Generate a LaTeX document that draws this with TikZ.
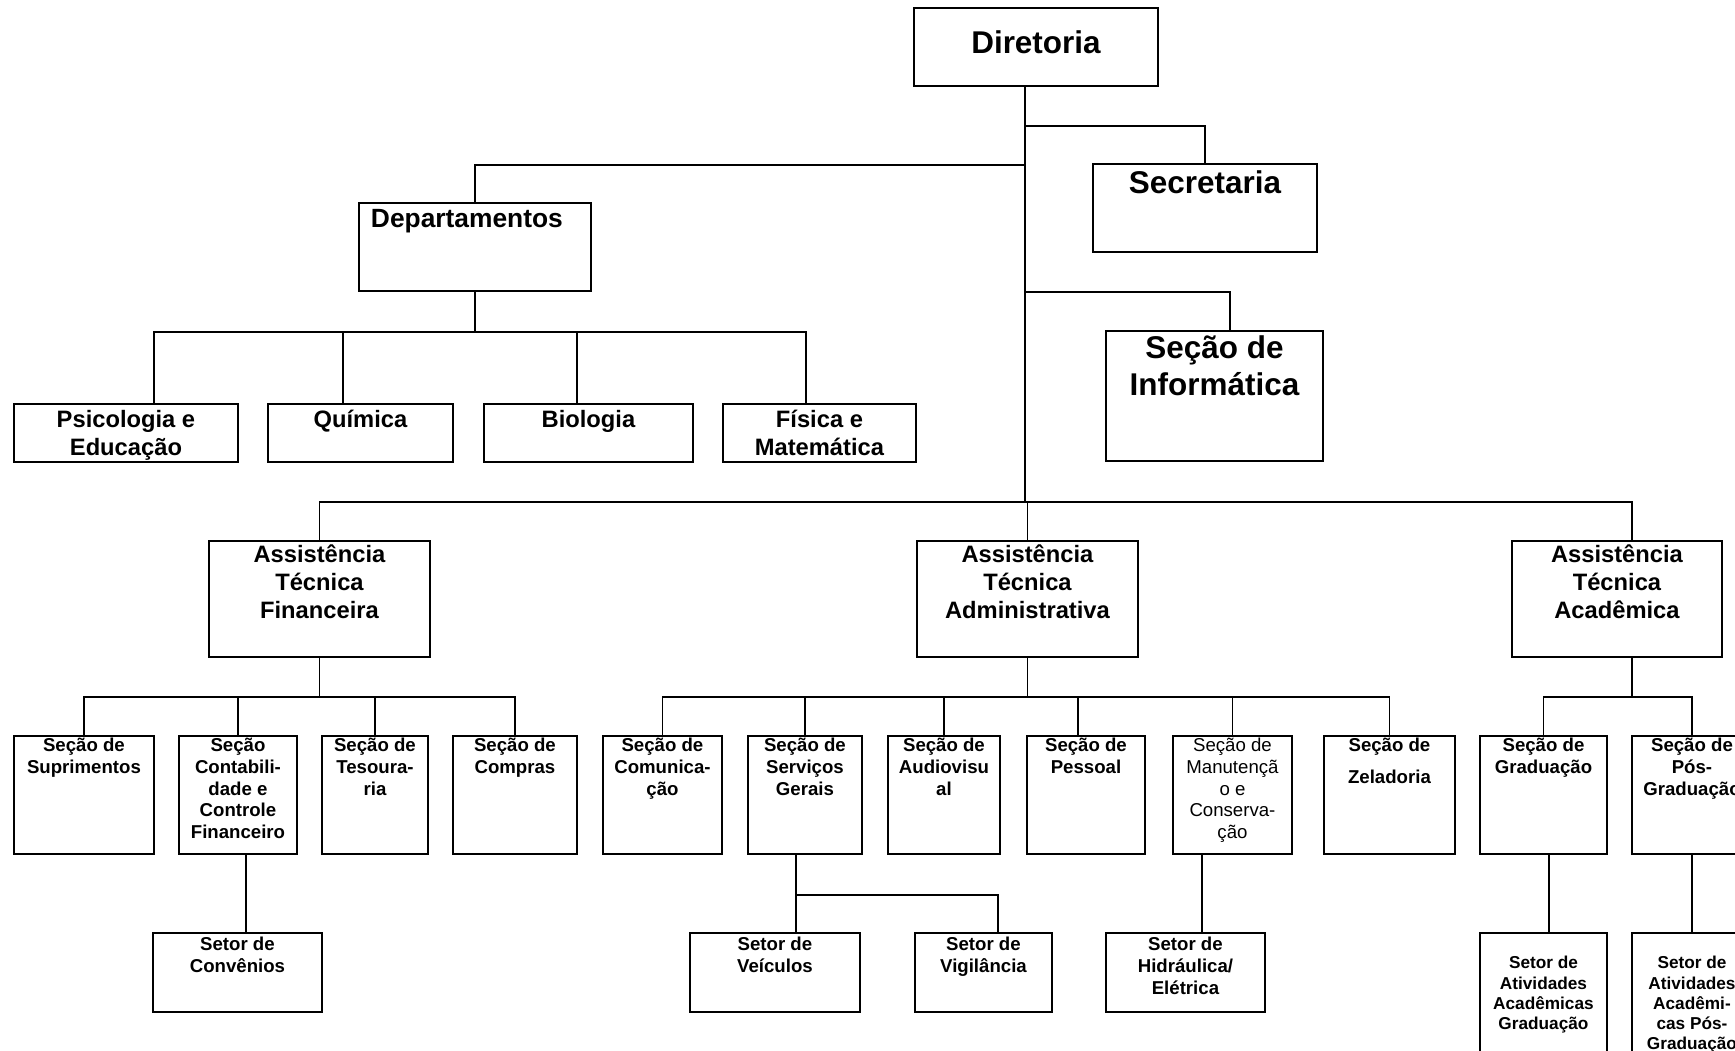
\documentclass[tikz,border=0pt]{standalone}
\usepackage{fontspec}
\setmainfont{Liberation Sans}
\newlength{\px}
\setlength{\px}{0.2mm}
% box text: first baseline, width, height, lines
\newcommand{\boxtxt}[4]{\parbox[t][#3\px][t]{#2\px}{\centering\rule{0pt}{#1\px}#4}}
\tikzset{
  orgbox/.style={draw, line width=1.1pt, inner sep=0pt, anchor=north west},
  boxbig/.style={orgbox, font=\fontsize{17.9}{21}\selectfont\bfseries},
  boxdep/.style={orgbox, font=\fontsize{15}{18}\selectfont\bfseries},
  boxmid/.style={orgbox, font=\fontsize{13.5}{15.7}\selectfont\bfseries},
  boxsml/.style={orgbox, font=\fontsize{10.6}{12.3}\selectfont\bfseries},
  boxreg/.style={orgbox, font=\fontsize{10.6}{12.3}\selectfont},
  boxtny/.style={orgbox, font=\fontsize{9.8}{11.4}\selectfont\bfseries},
}
\begin{document}
\begin{tikzpicture}[x=0.2mm, y=-0.2mm]
  \useasboundingbox (0,0) rectangle (1735,1051);
  \clip (0,0) rectangle (1735,1051);
  % top
  \node[boxbig] (dir) at (913,7) {\boxtxt{46}{244}{78}{Diretoria}};
  \node[boxbig] (sec) at (1092,163) {\boxtxt{30}{224}{88}{Secretaria}};
  \node[boxdep] (dep) at (358,202) {\boxtxt{25}{232}{88}{\raggedright\hspace*{12\px}Departamentos}};
  \node[boxbig] (inf) at (1105,330) {\boxtxt{28}{217}{130}{Seção de\\Informática}};
  % departamentos
  \node[boxmid] (psi) at (13,403) {\boxtxt{24}{224}{58}{Psicologia e\\Educação}};
  \node[boxmid] (qui) at (267,403) {\boxtxt{24}{185}{58}{Química}};
  \node[boxmid] (bio) at (483,403) {\boxtxt{24}{209}{58}{Biologia}};
  \node[boxmid] (fis) at (722,403) {\boxtxt{24}{193}{58}{Física e\\Matemática}};
  % assistencias
  \node[boxmid] (atf) at (208,540) {\boxtxt{22}{221}{116}{Assistência\\Técnica\\Financeira}};
  \node[boxmid] (ata) at (916,540) {\boxtxt{22}{221}{116}{Assistência\\Técnica\\Administrativa}};
  \node[boxmid] (atc) at (1511,540) {\boxtxt{22}{210}{116}{Assistência\\Técnica\\Acadêmica}};
  % secoes
  \node[boxsml] (sup) at (13,735) {\boxtxt{16}{140}{118}{Seção de\\Suprimentos}};
  \node[boxsml] (ctb) at (178,735) {\boxtxt{16}{118}{118}{Seção\\Contabili-\\dade e\\Controle\\Financeiro}};
  \node[boxsml] (tes) at (321,735) {\boxtxt{16}{106}{118}{Seção de\\Tesoura-\\ria}};
  \node[boxsml] (com) at (452,735) {\boxtxt{16}{124}{118}{Seção de\\Compras}};
  \node[boxsml] (cmn) at (602,735) {\boxtxt{16}{119}{118}{Seção de\\Comunica-\\ção}};
  \node[boxsml] (svg) at (747,735) {\boxtxt{16}{114}{118}{Seção de\\Serviços\\Gerais}};
  \node[boxsml] (aud) at (887,735) {\boxtxt{16}{112}{118}{Seção de\\Audiovisu\\al}};
  \node[boxsml] (pes) at (1026,735) {\boxtxt{16}{118}{118}{Seção de\\Pessoal}};
  \node[boxreg] (man) at (1172,735) {\boxtxt{16}{119}{118}{Seção de\\Manutençã\\o e\\Conserva-\\ção}};
  \node[boxsml] (zel) at (1323,735) {\boxtxt{16}{131}{118}{Seção de\\[10\px]Zeladoria}};
  \node[boxsml] (gra) at (1479,735) {\boxtxt{16}{127}{118}{Seção de\\Graduação}};
  \node[boxsml] (pos) at (1631,735) {\boxtxt{16}{120}{118}{Seção de\\Pós-\\Graduação}};
  % setores
  \node[boxsml] (cnv) at (152,932) {\boxtxt{18}{169}{79}{Setor de\\Convênios}};
  \node[boxsml] (vei) at (689,932) {\boxtxt{18}{170}{79}{Setor de\\Veículos}};
  \node[boxsml] (vig) at (914,932) {\boxtxt{18}{137}{79}{Setor de\\Vigilância}};
  \node[boxsml] (hid) at (1105,932) {\boxtxt{18}{159}{79}{Setor de\\Hidráulica/\\Elétrica}};
  \node[boxtny] (sag) at (1479,932) {\boxtxt{36}{127}{140}{Setor de\\Atividades\\Acadêmicas\\Graduação}};
  \node[boxtny] (sap) at (1631,932) {\boxtxt{36}{120}{140}{Setor de\\Atividades\\Acadêmi-\\cas Pós-\\Graduação}};
  \begin{scope}[line width=1.1pt]
    \draw ([xshift=-2.2mm]dir.south) -- ++(0,39) -| (sec.north);
    \draw ([xshift=-2.2mm]dir.south) -- ++(0,78) -| (dep.north);
    \draw ([xshift=-2.2mm]dir.south) -- ++(0,205) -| ([xshift=3.1mm]inf.north);
    \draw ([xshift=-2.2mm]dir.south) -- ++(0,415) -| (atf.north);
    \draw ([xshift=-2.2mm]dir.south) -- ++(0,415) -| (ata.north);
    \draw ([xshift=-2.2mm]dir.south) -- ++(0,415) -| ([xshift=3mm]atc.north);
    \draw (dep.south) -- ++(0,40) -| ([xshift=5.6mm]psi.north);
    \draw (dep.south) -- ++(0,40) -| ([xshift=-3.5mm]qui.north);
    \draw (dep.south) -- ++(0,40) -| ([xshift=-2.3mm]bio.north);
    \draw (dep.south) -- ++(0,40) -| ([xshift=-2.7mm]fis.north);
    \draw (atf.south) -- ++(0,39) -| (sup.north);
    \draw (atf.south) -- ++(0,39) -| (ctb.north);
    \draw (atf.south) -- ++(0,39) -| (tes.north);
    \draw (atf.south) -- ++(0,39) -| (com.north);
    \draw (ata.south) -- ++(0,39) -| (cmn.north);
    \draw (ata.south) -- ++(0,39) -| (svg.north);
    \draw (ata.south) -- ++(0,39) -| (aud.north);
    \draw (ata.south) -- ++(0,39) -| ([xshift=-1.6mm]pes.north);
    \draw (ata.south) -- ++(0,39) -| (man.north);
    \draw (ata.south) -- ++(0,39) -| (zel.north);
    \draw ([xshift=3mm]atc.south) -- ++(0,39) -| (gra.north);
    \draw ([xshift=3mm]atc.south) -- ++(0,39) -| (pos.north);
    \draw ([xshift=1.6mm]ctb.south) -- ([xshift=1.6mm]ctb.south |- cnv.north);
    \draw ([xshift=-1.8mm]svg.south) -- ([xshift=4.2mm]vei.north);
    \draw ([xshift=-1.8mm]svg.south) -- ++(0,40) -| ([xshift=2.9mm]vig.north);
    \draw ([xshift=-6.1mm]man.south) -- ([xshift=3.3mm]hid.north);
    \draw ([xshift=1.1mm]gra.south) -- ([xshift=1.1mm]gra.south |- sag.north);
    \draw (pos.south) -- (sap.north);
  \end{scope}
\end{tikzpicture}
\end{document}
